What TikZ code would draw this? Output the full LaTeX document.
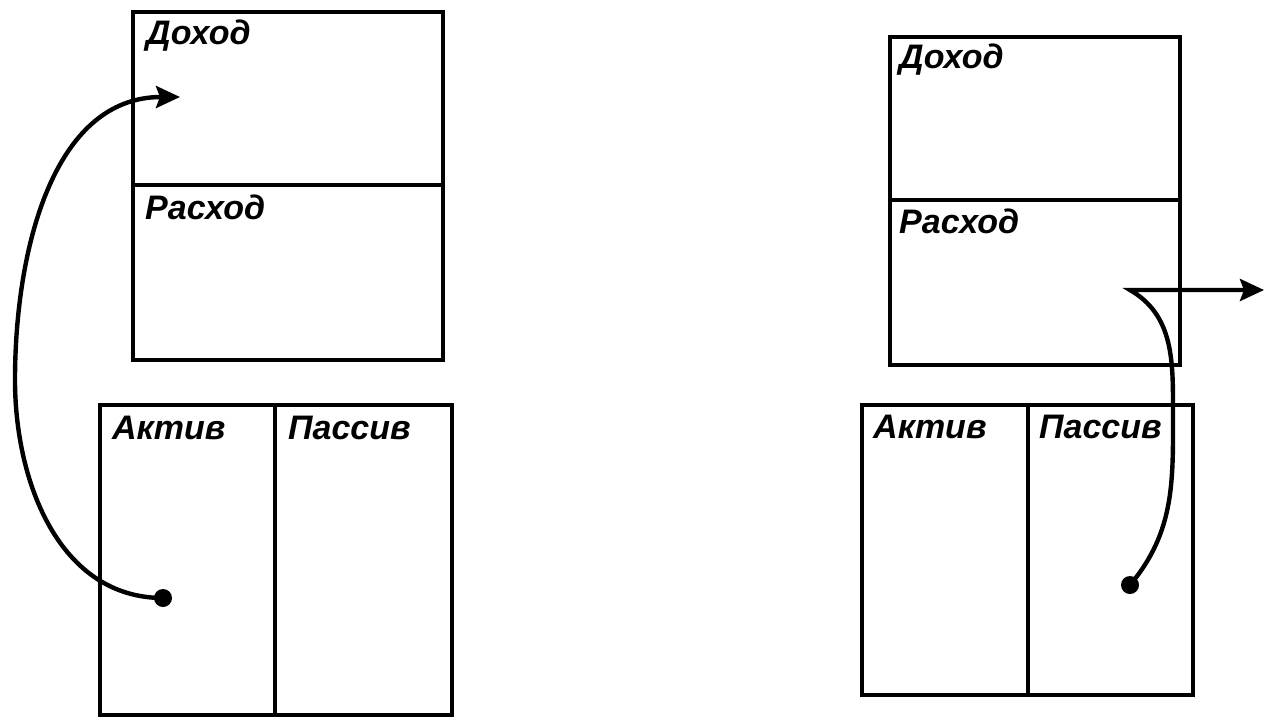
\documentclass[tikz,border=0pt]{standalone}
\usepackage{fontspec}
\setmainfont{Liberation Sans}
\usetikzlibrary{positioning,arrows.meta}

\tikzset{
  lbl/.style={anchor=base west,inner sep=0pt,font=\fontsize{34}{40}\selectfont\bfseries\itshape},
  dot/.style={circle,fill,inner sep=0pt,minimum size=18pt},
  flow/.style={-{Stealth[length=24pt,width=22pt,inset=4pt]}},
}

\begin{document}
\begin{tikzpicture}[x=1pt,y=-1pt,line width=4.4pt]
  \useasboundingbox (0,0) rectangle (1265,720);

  % left: income/expense over assets/liabilities
  \draw (133,12) rectangle (443,360);
  \draw (133,185) -- (443,185);
  \node[lbl] (inc1) at (144,44) {Доход};
  \node[lbl] (exp1) at (143,219) {Расход};

  \draw (100,405) rectangle (452,715);
  \draw (275,405) -- (275,715);
  \node[lbl] (act1) at (110,439) {Актив};
  \node[lbl] (pas1) at (286,439) {Пассив};

  \node[dot] (src1) at (163,598) {};
  \coordinate (bend1) at (15,380);
  \coordinate (tip1) at (180,97);
  \draw[flow] (src1.center) to[out=180,in=-90] (bend1) to[out=90,in=180] (tip1);

  % right
  \draw (890,37) rectangle (1180,365);
  \draw (890,200) -- (1180,200);
  \node[lbl] (inc2) at (897,68) {Доход};
  \node[lbl] (exp2) at (897,233) {Расход};

  \draw (862,405) rectangle (1193,695);
  \draw (1028,405) -- (1028,695);
  \node[lbl] (act2) at (871,438) {Актив};
  \node[lbl] (pas2) at (1037,438) {Пассив};

  \node[dot] (src2) at (1130,585) {};
  \coordinate (bend2) at (1173,410);
  \coordinate (turn2) at (1130,290);
  \coordinate (tip2) at (1264,290);
  \draw[flow] (src2.center) to[out=50,in=-90] (bend2) to[out=90,in=-30] (turn2) -- (tip2);
\end{tikzpicture}
\end{document}
